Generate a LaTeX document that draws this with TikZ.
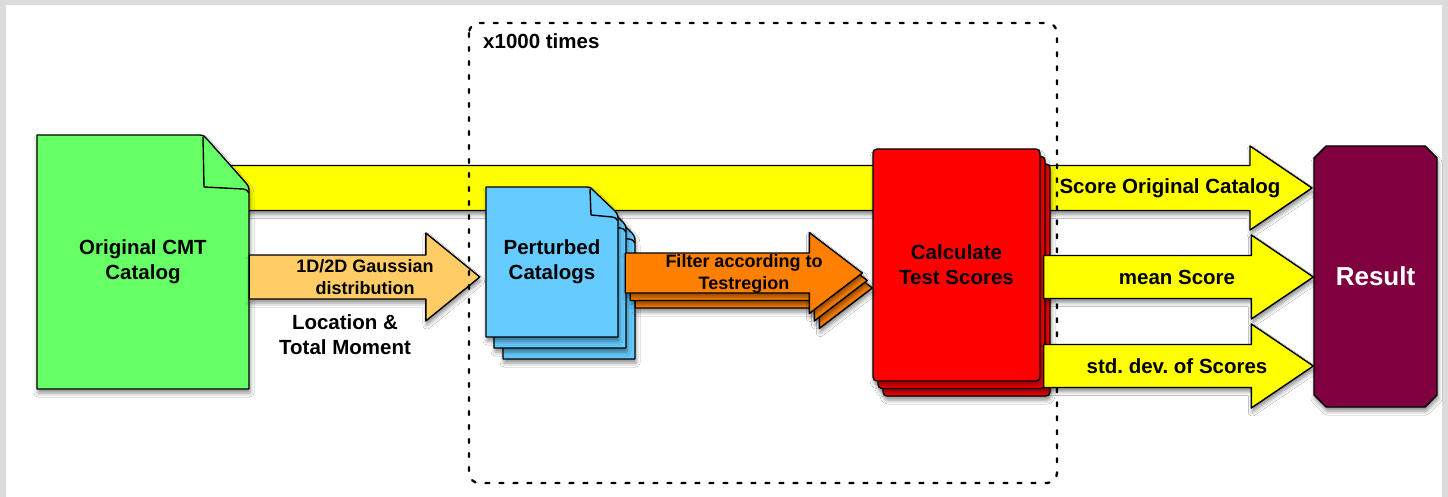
\documentclass[tikz,border=0pt]{standalone}
\usepackage{fontspec}
\setmainfont{Liberation Sans}
\usetikzlibrary{calc,shapes.misc,shadows.blur}
\frenchspacing

\definecolor{framegray}{HTML}{DCDCDC}
\definecolor{greenfill}{HTML}{66FF66}
\definecolor{yellowfill}{HTML}{FFFF00}
\definecolor{paleorange}{HTML}{FFCC66}
\definecolor{bluefill}{HTML}{66CCFF}
\definecolor{orangefill}{HTML}{FF8000}
\definecolor{redfill}{HTML}{FF0000}
\definecolor{maroon}{HTML}{7F003F}

% page with folded corner: colour, x1, y1, x2, y2, fold width, fold height
\newcommand{\docpage}[7]{%
  \draw[outline, softshadow, fill=#1] ({#2},{#3}) -- ({#4-#6-4},{#3})
    .. controls ({#4-#6+2},{#3}) .. ({#4-#6+6},{#3+4})
    -- ({#4-3},{#3+#7-6}) .. controls ({#4},{#3+#7-2}) .. ({#4},{#3+#7+4})
    -- ({#4},{#5}) -- ({#2},{#5}) -- cycle;
  \draw[outline, fill=#1] ({#4-#6+2},{#3+2}) -- ({#4-#6+3},{#3+#7-2})
    -- ({#4-6},{#3+#7}) .. controls ({#4-2},{#3+#7+1}) .. ({#4},{#3+#7+4});}

% block arrow: options, from, tip, body half, head half, head length
\newcommand{\blockarrow}[6][]{%
  \draw[outline, softshadow, #1] let \p1=(#2), \p2=(#3) in
    (\x1,\y2+#4) -- (\x2-#6,\y2+#4) -- (\x2-#6,\y2+#5) -- (\x2,\y2)
    -- (\x2-#6,\y2-#5) -- (\x2-#6,\y2-#4) -- (\x1,\y2-#4) -- cycle;}

\begin{document}
\begin{tikzpicture}[
  x=1pt, y=-1pt,
  font=\fontsize{20.5}{25}\selectfont\bfseries,
  outline/.style={draw=black, line width=1.4pt, line join=round},
  softshadow/.style={blur shadow={shadow xshift=1pt, shadow yshift=-4pt, shadow blur radius=4pt, shadow opacity=45}},
  lbl/.style={align=center, inner sep=0pt},
  smalllbl/.style={align=center, inner sep=0pt, font=\fontsize{18}{22}\selectfont\bfseries},
  testbox/.style={outline, softshadow, fill=redfill, rounded corners=4pt, minimum width=167pt, minimum height=232pt, align=center},
  resultbox/.style={chamfered rectangle, chamfered rectangle xsep=6pt, chamfered rectangle ysep=6pt,
    outline, softshadow, fill=maroon, text=white, minimum width=123pt, minimum height=261pt,
    font=\fontsize{26}{30}\selectfont\bfseries},
  loopline/.style={rounded corners=10pt, line width=2.3pt, dash pattern=on 4pt off 10pt, line cap=round}
]
\useasboundingbox (0,0) rectangle (1448,497);
\fill[framegray] (0,0) rectangle (1448,497);
\fill[white] (6,5) rectangle (1442,497);

%% Score of the original catalog, runs behind everything
\coordinate (scorestart) at (143,188);
\coordinate (scoretip) at (1312,188);
\blockarrow[fill=yellowfill]{scorestart}{scoretip}{22.5pt}{42pt}{62pt}

%% Original catalog
\docpage{greenfill}{37}{135}{249}{389}{48}{54}
\node[lbl, minimum width=212pt, minimum height=254pt] (orig) at (143,262) {Original CMT\\Catalog};

%% Perturbed catalogs
\foreach \dx/\dy in {17/22, 8/11, 0/0} {
  \docpage{bluefill}{486+\dx}{187+\dy}{618+\dx}{337+\dy}{30}{30}
}
\node[lbl, minimum width=132pt, minimum height=150pt] (pert) at (552,262) {Perturbed\\Catalogs};

\blockarrow[fill=paleorange]{orig.east}{[shift={(-6,15)}]pert.west}{22pt}{44pt}{54pt}

%% Test scores
\foreach \d in {2,1}
  \node[testbox] (scores\d) at ({956.5+5*\d},{265+7.5*\d}) {};
\node[testbox] (scores) at (956.5,265) {Calculate\\Test Scores};

\foreach \d in {2,1,0} {
  \blockarrow[fill=orangefill]{[shift={({5*\d+7},{7.5*\d})}]pert.east}{[shift={({5*\d-10},{7.5*\d+8})}]scores.west}{20pt}{40.5pt}{53pt}
}

%% Result
\node[resultbox] (result) at (1375.5,276.5) {Result};

%% Loop
\draw[loopline] (469,23) rectangle (1057,483);
\node[anchor=west, inner sep=0pt] (looplbl) at (483,41) {x1000 times};

\blockarrow[fill=yellowfill]{[shift={(3,0)}]scores.east}{[shift={(0,0.5)}]result.west}{21.5pt}{42pt}{62pt}
\blockarrow[fill=yellowfill]{[shift={(3,0)}]scores.east}{[shift={(0,89.5)}]result.west}{21.5pt}{42pt}{62pt}

%% Labels
\node[smalllbl] (gausslbl) at (365,277) {1D/2D Gaussian\\distribution};
\node[lbl] (loclbl) at (345,335) {Location \&\\Total Moment};
\node[smalllbl] (filterlbl) at (744,274) {Filter according to\\Testregion};
\node[lbl] (scorelbl) at (1170,188) {Score Original Catalog};
\node[lbl] (meanlbl) at (1177,277) {mean Score};
\node[lbl] (stdlbl) at (1177,366) {std. dev. of Scores};
\end{tikzpicture}
\end{document}
